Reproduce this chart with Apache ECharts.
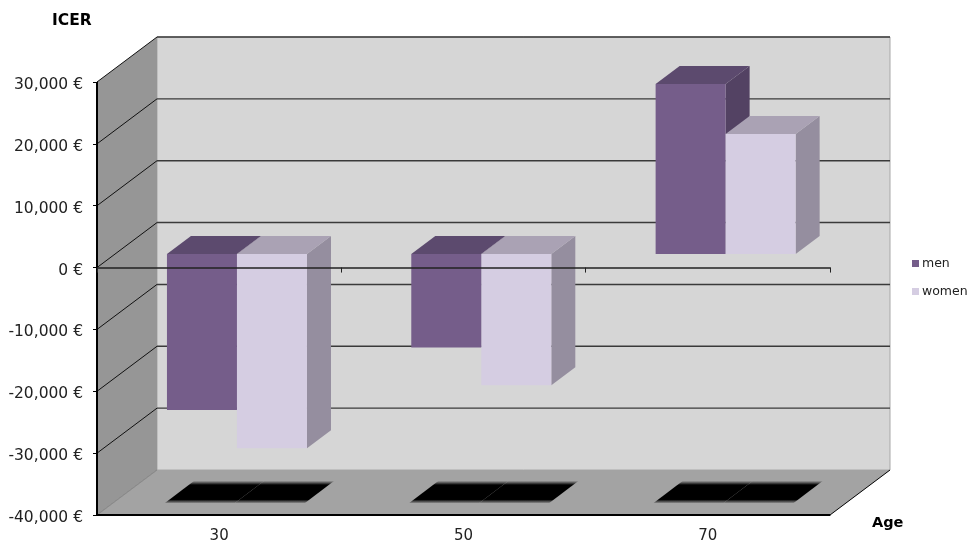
<!DOCTYPE html>
<html>
<head>
<meta charset="utf-8">
<style>
	html, body { margin: 0; padding: 0; background: #fff; }
	#chart { width: 975px; height: 549px; }
</style>
<script src="https://cdn.jsdelivr.net/npm/echarts@6/dist/echarts.min.js"></script>
</head>
<body>
<div id="chart"></div>
<script>
var ages = ['30', '50', '70'];
var menValues = [-25200, -15100, 27500];
var womenValues = [-31400, -21200, 19400];
var gridValues = [-30000, -20000, -10000, 0, 10000, 20000, 30000];

// depth of the box and of the bars, in pixels
var wallDx = 60, wallDy = 45;
var barDy = 13.5;
var barDepthX = 24, barDepthY = 18;
var font = '"DejaVu Sans", sans-serif';

function renderWalls(params) {
	var c = params.coordSys;
	var right = c.x + c.width, bottom = c.y + c.height;
	return {
		type: 'group',
		children: [
			{
				type: 'polygon',
				shape: { points: [[c.x + wallDx, c.y - wallDy], [right + wallDx, c.y - wallDy], [right + wallDx, bottom - wallDy], [c.x + wallDx, bottom - wallDy]] },
				style: { fill: '#d6d6d6', stroke: '#a8a8a8', lineWidth: 1 }
			},
			{
				type: 'polygon',
				shape: { points: [[c.x, c.y], [c.x + wallDx, c.y - wallDy], [c.x + wallDx, bottom - wallDy], [c.x, bottom]] },
				style: { fill: '#969696' }
			},
			{
				type: 'polygon',
				shape: { points: [[c.x, bottom], [c.x + wallDx, bottom - wallDy], [right + wallDx, bottom - wallDy], [right, bottom]] },
				style: { fill: '#a3a3a3' }
			},
			{
				type: 'line',
				shape: { x1: c.x, y1: bottom, x2: c.x + wallDx, y2: bottom - wallDy },
				style: { stroke: '#555', lineWidth: 0.5 }
			},
			{
				type: 'line',
				shape: { x1: right, y1: bottom, x2: right + wallDx, y2: bottom - wallDy },
				style: { stroke: '#000', lineWidth: 1 }
			},
			// front edges of the box
			{
				type: 'rect',
				shape: { x: c.x - 1, y: c.y, width: 2, height: c.height },
				style: { fill: '#000' }
			},
			{
				type: 'rect',
				shape: { x: c.x - 1, y: bottom - 1, width: c.width + 1, height: 2 },
				style: { fill: '#000' }
			}
		]
	};
}

function renderGridLine(params, api) {
	var c = params.coordSys;
	var y = api.coord([0, api.value(0)])[1];
	return {
		type: 'group',
		children: [
			{
				type: 'line',
				shape: { x1: c.x, y1: y, x2: c.x + wallDx, y2: y - wallDy },
				style: { stroke: '#111', lineWidth: 1 }
			},
			{
				type: 'line',
				shape: { x1: c.x + wallDx, y1: y - wallDy, x2: c.x + c.width + wallDx, y2: y - wallDy },
				style: { stroke: '#3a3a3a', lineWidth: 1.4 }
			}
		]
	};
}

function makeBarRenderer(offset, widthPart, colors) {
	return function (params, api) {
		var c = params.coordSys;
		var center = api.coord([api.value(0), 0]);
		var catWidth = api.size([1, 0])[0];
		var value = api.value(1);
		var left = center[0] + catWidth * offset;
		var right = left + catWidth * widthPart;
		var top = api.coord([api.value(0), Math.max(value, 0)])[1] - barDy;
		var bottom = api.coord([api.value(0), Math.min(value, 0)])[1] - barDy;
		var floorFront = c.y + c.height - barDy;
		var floorBack = floorFront - barDepthY;
		return {
			type: 'group',
			children: [
				{
					// shadow on the floor, a little larger than the bar's foot
					type: 'polygon',
					shape: { points: [[left - 2, floorFront + 1.5], [left + barDepthX + 3, floorBack - 2.5], [right + barDepthX + 3, floorBack - 2.5], [right - 2, floorFront + 1.5]] },
					style: {
						fill: new echarts.graphic.LinearGradient(0, 0, 0, 1, [
							{ offset: 0, color: '#999' },
							{ offset: 0.18, color: '#000' },
							{ offset: 0.84, color: '#000' },
							{ offset: 1, color: '#888' }
						])
					}
				},
				{
					type: 'polygon',
					shape: { points: [[right, top], [right + barDepthX, top - barDepthY], [right + barDepthX, bottom - barDepthY], [right, bottom]] },
					style: { fill: colors.side }
				},
				{
					type: 'polygon',
					shape: { points: [[left, top], [left + barDepthX, top - barDepthY], [right + barDepthX, top - barDepthY], [right, top]] },
					style: { fill: colors.top }
				},
				{
					type: 'rect',
					shape: { x: left, y: top, width: right - left, height: bottom - top },
					style: { fill: colors.front }
				}
			]
		};
	};
}

function toPairs(values) {
	return values.map(function (v, i) {
		return [i, v];
	});
}

var chart = echarts.init(document.getElementById('chart'), null, { renderer: 'canvas' });
chart.setOption({
	animation: false,
	backgroundColor: '#fff',
	textStyle: { fontFamily: font },
	grid: { left: 97, top: 82, width: 733, height: 433 },
	legend: {
		data: ['men', 'women'],
		orient: 'vertical',
		left: 907,
		top: 252,
		icon: 'rect',
		itemWidth: 7,
		itemHeight: 7,
		itemGap: 15,
		selectedMode: false,
		textStyle: { fontFamily: font, fontSize: 12.5, color: '#222', padding: [0, 0, 0, -2] }
	},
	graphic: [
		{ type: 'text', left: 52, top: 13, style: { text: 'ICER', font: 'bold 15.5px ' + font, fill: '#000' } },
		{ type: 'text', left: 872, top: 516, style: { text: 'Age', font: 'bold 14.5px ' + font, fill: '#000' } }
	],
	xAxis: [
		{
			type: 'category',
			data: ages,
			position: 'bottom',
			z: 10,
			axisLine: { onZero: false, lineStyle: { color: '#000', width: 1 } },
			axisTick: { show: false },
			axisLabel: { margin: 14, fontFamily: font, fontSize: 15, color: '#222' }
		},
		{
			type: 'category',
			data: ages,
			position: 'top',
			z: 10,
			axisLine: { onZero: true, lineStyle: { color: '#222', width: 1.5 } },
			axisTick: { show: true, inside: true, length: 5, lineStyle: { color: '#222' } },
			axisLabel: { show: false }
		}
	],
	yAxis: {
		type: 'value',
		min: -40000,
		max: 30000,
		interval: 10000,
		z: 10,
		splitLine: { show: false },
		axisLine: { show: true, onZero: false, lineStyle: { color: '#000', width: 1 } },
		axisTick: { show: true, length: 4, lineStyle: { color: '#000' } },
		axisLabel: {
			margin: 14,
			formatter: function (v) {
				return '{v|' + v.toLocaleString('en-US') + ' €}';
			},
			rich: {
				v: { fontFamily: font, fontSize: 15.5, color: '#222', padding: [6, 0, 0, 0] }
			}
		}
	},
	series: [
		{
			name: 'walls',
			type: 'custom',
			z: 1,
			renderItem: renderWalls,
			data: [[0, 0]],
			silent: true
		},
		{
			name: 'grid lines',
			type: 'custom',
			z: 2,
			renderItem: renderGridLine,
			encode: { y: 0 },
			data: gridValues,
			silent: true
		},
		{
			name: 'men',
			type: 'custom',
			z: 3,
			itemStyle: { color: '#755d8a' },
			renderItem: makeBarRenderer(-0.2137, 0.2865, { front: '#755d8a', top: '#5c4a6e', side: '#534263' }),
			encode: { x: 0, y: 1 },
			data: toPairs(menValues)
		},
		{
			name: 'women',
			type: 'custom',
			z: 4,
			itemStyle: { color: '#d5cde2' },
			renderItem: makeBarRenderer(0.0729, 0.2865, { front: '#d5cde2', top: '#aaa2b4', side: '#958e9f' }),
			encode: { x: 0, y: 1 },
			data: toPairs(womenValues)
		}
	]
});
</script>
</body>
</html>
